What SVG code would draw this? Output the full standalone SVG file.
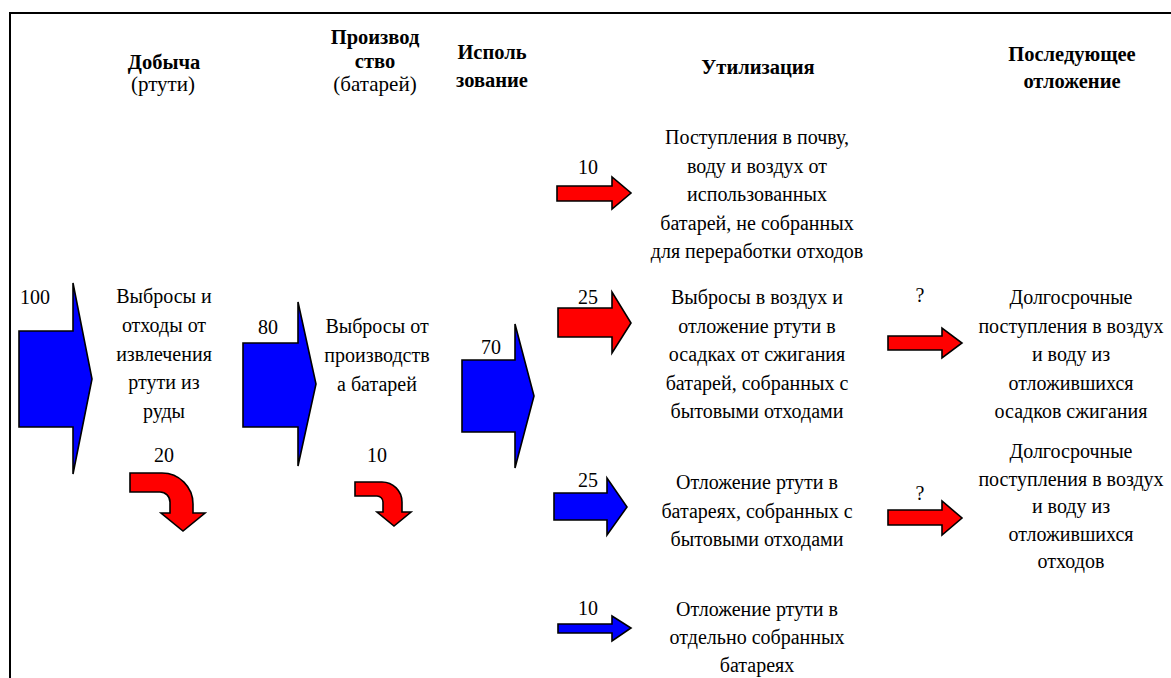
<svg xmlns="http://www.w3.org/2000/svg" width="1171" height="678" viewBox="0 0 1171 678">
<style>
text{font-family:"Liberation Serif","Times New Roman",serif;fill:#000;text-anchor:middle}
.h{font-size:20.5px;font-weight:bold}
.s{font-size:21px}
.t{font-size:20px}
.n{font-size:20px}
.blue{fill:#0000FF;stroke:#000;stroke-width:1.6;stroke-linejoin:miter}
.red{fill:#FF0000;stroke:#000;stroke-width:1.6;stroke-linejoin:miter}
.frame{fill:none;stroke:#000;stroke-width:2}
</style>
<rect width="1171" height="678" fill="#fff"/>
<path class="frame" d="M10,678 V13 H1171"/>
<g id="headers">
<g id="h-mining"><text class="h" x="164" y="69">Добыча</text><text class="s" x="163" y="91">(ртути)</text></g>
<g id="h-production"><text class="h" x="375" y="44">Производ</text><text class="h" x="375" y="68">ство</text><text class="s" x="375" y="91">(батарей)</text></g>
<g id="h-use"><text class="h" x="492" y="59">Исполь</text><text class="h" x="492" y="87">зование</text></g>
<g id="h-disposal"><text class="h" x="758" y="74">Утилизация</text></g>
<g id="h-later"><text class="h" x="1072" y="61">Последующее</text><text class="h" x="1072" y="88">отложение</text></g>
</g>
<g id="node-mining-emissions"><text class="t" x="164"><tspan x="164" y="303">Выбросы и</tspan><tspan x="164" y="332">отходы от</tspan><tspan x="164" y="361">извлечения</tspan><tspan x="164" y="389">ртути из</tspan><tspan x="164" y="418">руды</tspan></text></g>
<g id="node-production-emissions"><text class="t" x="377"><tspan x="377" y="333">Выбросы от</tspan><tspan x="377" y="362">производств</tspan><tspan x="377" y="391">а батарей</tspan></text></g>
<g id="node-uncollected"><text class="t" x="757"><tspan x="757" y="144">Поступления в почву,</tspan><tspan x="757" y="172.5">воду и воздух от</tspan><tspan x="757" y="201">использованных</tspan><tspan x="757" y="229.5">батарей, не собранных</tspan><tspan x="757" y="258">для переработки отходов</tspan></text></g>
<g id="node-incineration"><text class="t" x="757"><tspan x="757" y="304">Выбросы в воздух и</tspan><tspan x="757" y="332.5">отложение ртути в</tspan><tspan x="757" y="361">осадках от сжигания</tspan><tspan x="757" y="389.5">батарей, собранных с</tspan><tspan x="757" y="418">бытовыми отходами</tspan></text></g>
<g id="node-landfill"><text class="t" x="757"><tspan x="757" y="489">Отложение ртути в</tspan><tspan x="757" y="517.5">батареях, собранных с</tspan><tspan x="757" y="546">бытовыми отходами</tspan></text></g>
<g id="node-separate"><text class="t" x="757"><tspan x="757" y="616">Отложение ртути в</tspan><tspan x="757" y="644">отдельно собранных</tspan><tspan x="757" y="672">батареях</tspan></text></g>
<g id="node-longterm-ash"><text class="t" x="1071"><tspan x="1071" y="304">Долгосрочные</tspan><tspan x="1071" y="332.5">поступления в воздух</tspan><tspan x="1071" y="361">и воду из</tspan><tspan x="1071" y="389.5">отложившихся</tspan><tspan x="1071" y="418">осадков сжигания</tspan></text></g>
<g id="node-longterm-waste"><text class="t" x="1071"><tspan x="1071" y="458">Долгосрочные</tspan><tspan x="1071" y="485.5">поступления в воздух</tspan><tspan x="1071" y="513">и воду из</tspan><tspan x="1071" y="540.5">отложившихся</tspan><tspan x="1071" y="568">отходов</tspan></text></g>
<g id="connectors">
<path class="blue" d="M19,331 H73 V283 L92,379 L73,474 V427 H19 Z"/>
<text class="n" x="35" y="304">100</text>
<path class="blue" d="M243,343 H298 V302 L316,384 L298,466 V427 H243 Z"/>
<text class="n" x="268" y="334">80</text>
<path class="blue" d="M462,360 H515 V324 L534,396 L515,468 V432 H462 Z"/>
<text class="n" x="491" y="354">70</text>
<path class="red" d="M130,473 H162 A31,31 0 0 1 193,504 V513 H205 L183,531 L161,513 H170 V502 A10,10 0 0 0 160,492 H130 Z"/>
<text class="n" x="164" y="462">20</text>
<path class="red" d="M355,482 H382 A20,20 0 0 1 402,502 V512 H411 L394,526 L377,512 H383 V502 A6,6 0 0 0 377,496 H355 Z"/>
<text class="n" x="377" y="462">10</text>
<path class="red" d="M557,186 H612 V177 L631,193 L612,209 V201 H557 Z"/>
<text class="n" x="588" y="174">10</text>
<path class="red" d="M558,308 H612 V292 L631,323 L612,353 V337 H558 Z"/>
<text class="n" x="588" y="304">25</text>
<path class="blue" d="M554,493 H607 V478 L627,507 L607,535 V520 H554 Z"/>
<text class="n" x="588" y="487">25</text>
<path class="blue" d="M558,624 H612 V616 L631,628 L612,641 V633 H558 Z"/>
<text class="n" x="588" y="615">10</text>
<path class="red" d="M888,336 H942 V328 L962,343 L942,358 V350 H888 Z"/>
<text class="n" x="920" y="302">?</text>
<path class="red" d="M888,510 H942 V501 L962,518 L942,535 V525 H888 Z"/>
<text class="n" x="920" y="500">?</text>
</g>
</svg>
